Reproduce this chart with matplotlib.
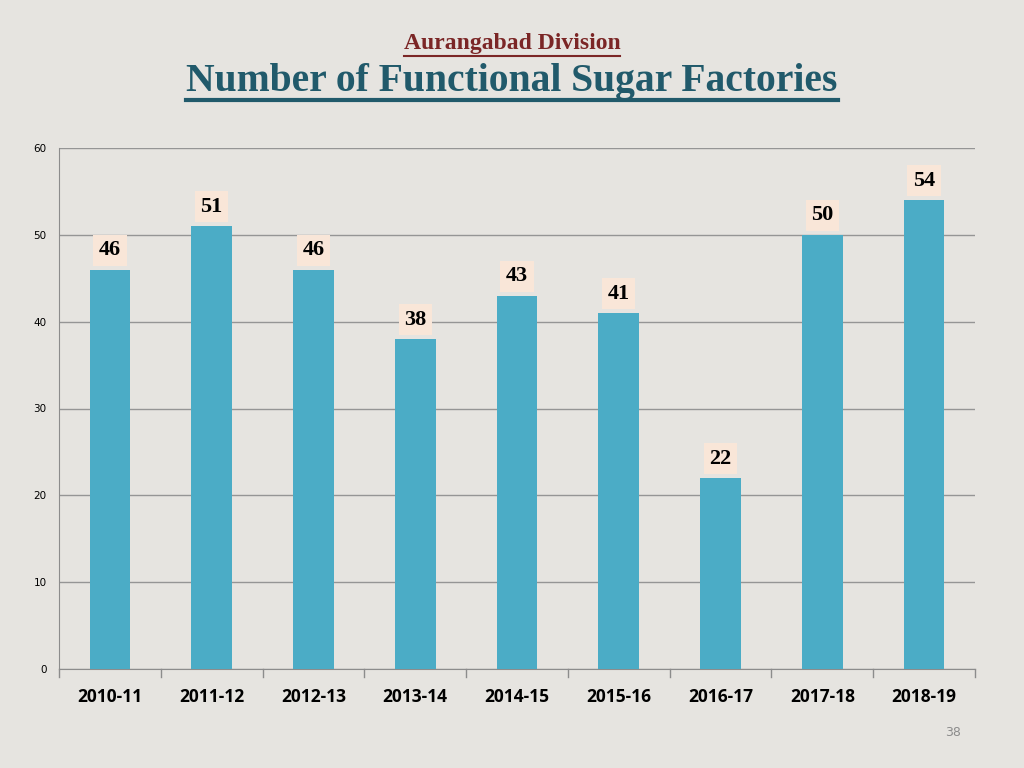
import matplotlib
matplotlib.use("Agg")
import matplotlib.pyplot as plt
from matplotlib.lines import Line2D

years = ["2010-11", "2011-12", "2012-13", "2013-14", "2014-15", "2015-16", "2016-17", "2017-18", "2018-19"]
factories = [46, 51, 46, 38, 43, 41, 22, 50, 54]

bg = "#e6e4e0"
fig = plt.figure(figsize=(10.24, 7.68), dpi=100, facecolor=bg)
ax = fig.add_axes([59/1024, 1-669/768, (975-59)/1024, (669-148)/768])
ax.set_facecolor(bg)

x = range(len(years))
ax.bar(x, factories, width=0.4, color="#4bacc6", zorder=3)
ax.set_xlim(-0.5, len(years)-0.5)
ax.set_ylim(0, 60)
ax.set_yticks(range(0, 61, 10))
ax.set_xticks(list(x))
ax.set_xticklabels(years, fontsize=12.5, fontweight="bold", family="Open Sans")
ax.tick_params(axis="y", labelsize=7.5, length=0, pad=9)
ax.tick_params(axis="x", length=0, pad=14)
for xb in [i + 0.5 for i in range(-1, len(years))]:
    ax.plot([xb, xb], [0, -0.9], color="#8c8c8c", lw=1, clip_on=False, zorder=2)
ax.grid(axis="y", color="#959595", lw=1, zorder=1)
for s in ["top", "right"]:
    ax.spines[s].set_visible(False)
ax.spines["left"].set_color("#8c8c8c")
ax.spines["bottom"].set_color("#8c8c8c")

for i, v in enumerate(factories):
    ax.annotate(str(v), (i, v), xytext=(0, 14), textcoords="offset points",
                ha="center", va="center", fontsize=16, fontweight="bold",
                family="Liberation Serif", color="black",
                bbox=dict(boxstyle="square,pad=0.25", facecolor="#f9e6d8", edgecolor="none"),
                zorder=5)

t1 = fig.text(512/1024, 1-44/768, "Aurangabad Division", ha="center", va="center",
              fontsize=17, fontweight="bold", family="Liberation Serif", color="#7b2626")
t2 = fig.text(512/1024, 1-82/768, "Number of Functional Sugar Factories", ha="center", va="center",
              fontsize=28.5, fontweight="bold", family="Liberation Serif", color="#215a6b")
fig.text(953/1024, 1-733/768, "38", ha="center", va="center", fontsize=9, color="#8c8c8c")

fig.canvas.draw()
r = fig.canvas.get_renderer()
for t, yline, col, lw in [(t1, 1-56/768, "#7b2626", 1.5), (t2, 1-100/768, "#215a6b", 3)]:
    bb = t.get_window_extent(r).transformed(fig.transFigure.inverted())
    fig.add_artist(Line2D([bb.x0, bb.x1], [yline, yline], color=col, lw=lw, transform=fig.transFigure))

fig.savefig("out.png", dpi=100, facecolor=bg)
